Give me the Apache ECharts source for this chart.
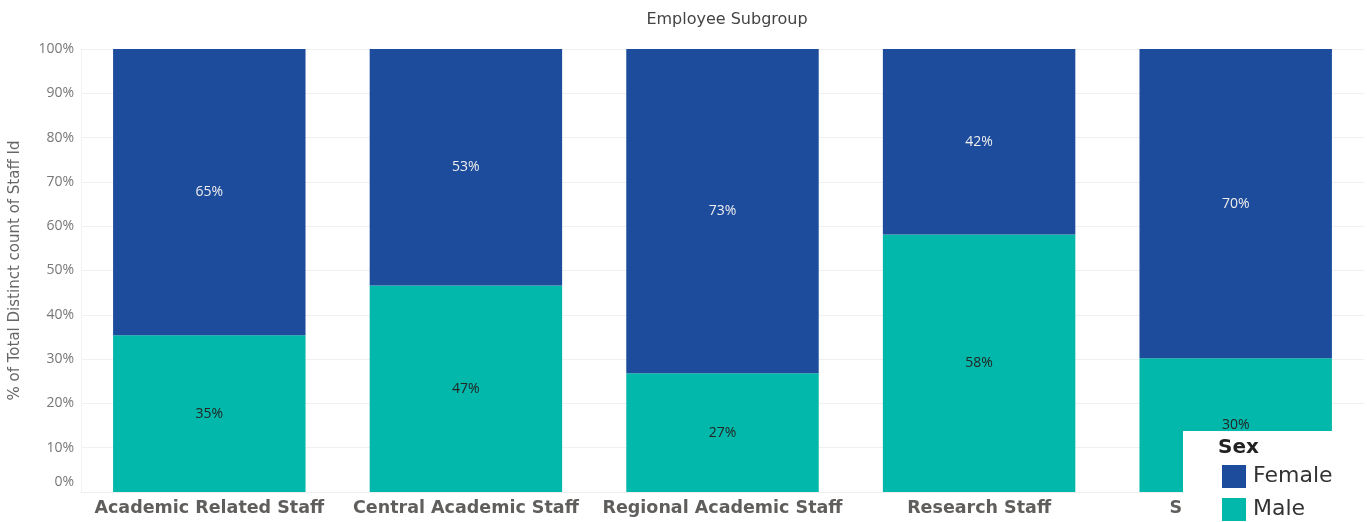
<!DOCTYPE html>
<html>
<head>
<meta charset="utf-8">
<script src="https://cdn.jsdelivr.net/npm/echarts@6/dist/echarts.min.js"></script>
<style>
html, body { margin: 0; padding: 0; background: #fff; }
#container { width: 1367px; height: 522px; }
</style>
</head>
<body>
<div id="container"></div>
<script>
var categories = ['Academic Related Staff', 'Central Academic Staff', 'Regional Academic Staff', 'Research Staff', 'Support Staff'];
var male = [35.4, 46.6, 26.8, 58.1, 30.2];
var female = [64.6, 53.4, 73.2, 41.9, 69.8];
var yTicks = [0, 10, 20, 30, 40, 50, 60, 70, 80, 90, 100];

var dom = document.getElementById("container");
var myChart = echarts.init(dom);
var font = 'Open Sans';
var wide = 'DejaVu Sans';

var option = {
    animation: false,
    textStyle: { fontFamily: font },
    title: {
        text: 'Employee Subgroup',
        left: 722,
        textAlign: 'center',
        top: 7,
        textStyle: { fontSize: 16, fontWeight: 'normal', color: '#444', fontFamily: wide }
    },
    grid: { left: 79, right: 3, top: 49, bottom: 30 },
    legend: {
        orient: 'vertical',
        left: 1222,
        top: 465,
        padding: 0,
        itemWidth: 24,
        itemHeight: 23,
        itemGap: 10,
        icon: 'rect',
        z: 10,
        data: ['Female', 'Male'],
        textStyle: { fontSize: 22, color: '#333', fontFamily: wide, padding: [0, 0, 0, 2] }
    },
    graphic: [{
        type: 'rect',
        left: 1183,
        top: 431,
        z: 5,
        shape: { width: 184, height: 91 },
        style: { fill: '#fff' }
    }, {
        type: 'text',
        left: 1218,
        top: 438,
        z: 10,
        style: { text: 'Sex', fontSize: 20, fontWeight: 'bold', fill: '#222', fontFamily: wide }
    }],
    xAxis: {
        type: 'category',
        data: categories,
        axisLine: { show: true, lineStyle: { color: '#eee' } },
        axisTick: { show: false },
        axisLabel: { interval: 0, fontSize: 17.5, fontWeight: 'bold', color: '#605E5C', margin: 7, fontFamily: wide }
    },
    yAxis: {
        type: 'value',
        min: 0,
        max: 100,
        interval: 10,
        name: '% of Total Distinct count of Staff Id',
        nameLocation: 'middle',
        nameGap: 58,
        nameTextStyle: { fontSize: 15, color: '#666', fontFamily: wide },
        axisLine: { show: true, lineStyle: { color: '#f2f2f2' } },
        axisTick: { show: false },
        splitLine: { lineStyle: { color: '#f0f0f0' } },
        axisLabel: {
            fontSize: 14,
            color: '#777',
            margin: 7,
            formatter: function (v) {
                return yTicks.indexOf(v) >= 0 ? (v === 0 ? '{z|0%}' : v + '%') : '';
            },
            rich: { z: { fontSize: 14, color: '#777', padding: [0, 0, 20, 0] } }
        }
    },
    series: [
        {
            name: 'Male',
            type: 'bar',
            stack: 'total',
            barWidth: '75%',
            data: male,
            itemStyle: { color: '#01B8AA' },
            label: {
                show: true,
                position: 'inside',
                fontSize: 14,
                color: '#252423',
                formatter: function (p) { return Math.round(p.value) + '%'; }
            }
        },
        {
            name: 'Female',
            type: 'bar',
            stack: 'total',
            barWidth: '75%',
            data: female,
            itemStyle: { color: '#1E4C9C' },
            label: {
                show: true,
                position: 'inside',
                fontSize: 14,
                color: '#EEEEEE',
                formatter: function (p) { return Math.round(p.value) + '%'; }
            }
        }
    ]
};
myChart.setOption(option, true);
</script>
</body>
</html>
